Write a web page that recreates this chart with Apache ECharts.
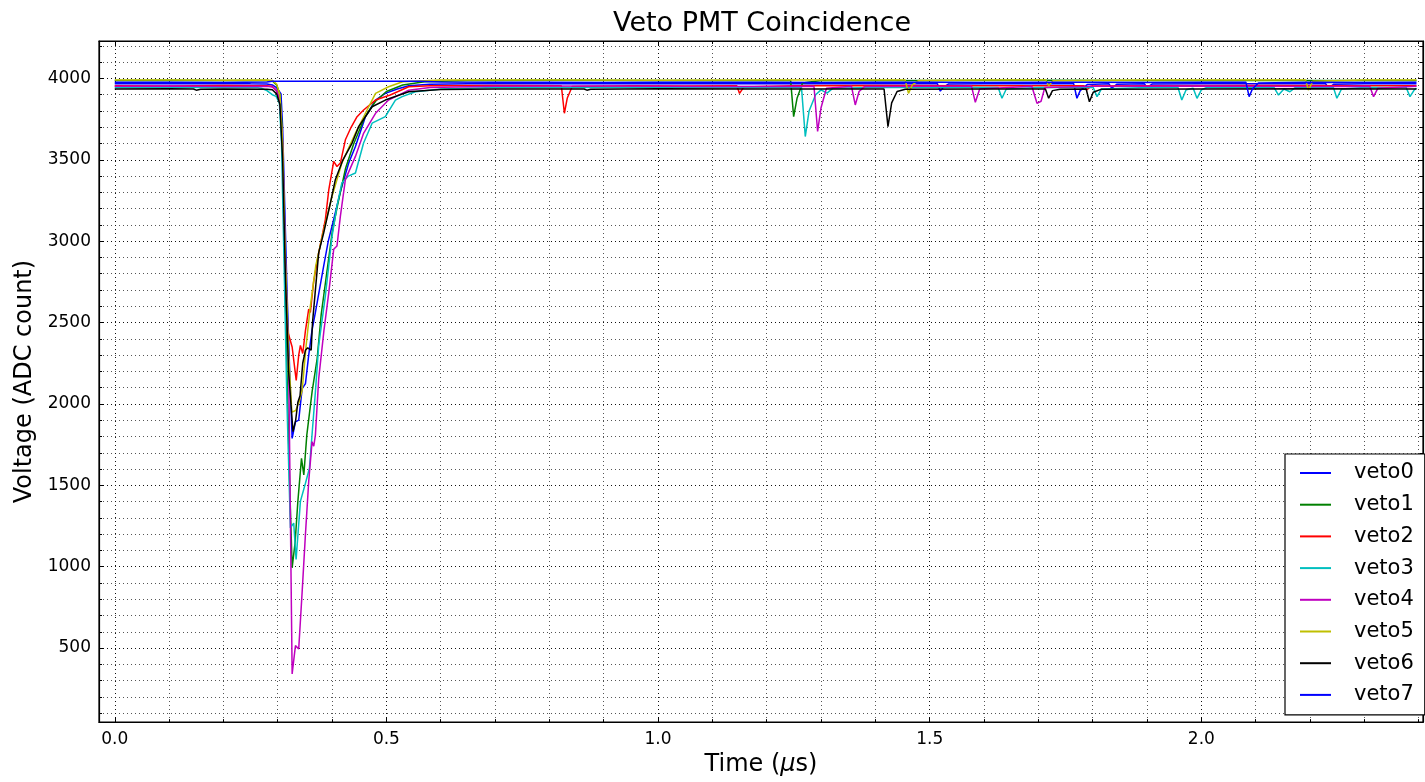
<!DOCTYPE html>
<html>
<head>
<meta charset="utf-8">
<title>Veto PMT Coincidence</title>
<script src="https://cdn.jsdelivr.net/npm/echarts@6/dist/echarts.min.js"></script>
<style>
    html, body { margin: 0; padding: 0; background: #fff; }
    #veto-chart { width: 1425px; height: 782px; }
</style>
</head>
<body>
<div id="veto-chart"></div>
<script>
// time in µs, voltage in ADC counts
const vetoNames = ['veto0', 'veto1', 'veto2', 'veto3', 'veto4', 'veto5', 'veto6', 'veto7'];
const vetoColors = ['#0000ff', '#008000', '#ff0000', '#00bfbf', '#bf00bf', '#bfbf00', '#000000', '#0000ff'];

const veto0 = [[0,3968],[0.05,3969],[0.1,3967],[0.15,3968],[0.2,3969],[0.25,3967],[0.28,3966],[0.29,3960],[0.297,3945],[0.302,3925],[0.306,3905],[0.309,3700],[0.313,3200],[0.317,2700],[0.322,2200],[0.3265,1788],[0.3326,1890],[0.3386,1900],[0.3449,2094],[0.351,2125],[0.357,2300],[0.363,2450],[0.3693,2563],[0.3846,2848],[0.393,3000],[0.403,3134],[0.415,3300],[0.4306,3480],[0.443,3582],[0.4614,3765],[0.48,3867],[0.498,3908],[0.52,3935],[0.541,3955],[0.58,3964],[0.65,3968],[0.75,3967],[0.85,3969],[0.95,3967],[1.05,3968],[1.15,3969],[1.25,3967],[1.35,3968],[1.45,3967],[1.514,3968],[1.5195,3922],[1.525,3945],[1.535,3966],[1.6,3968],[1.7,3967],[1.765,3968],[1.771,3878],[1.777,3925],[1.79,3962],[1.83,3967],[1.835,3940],[1.845,3965],[1.895,3968],[1.9,3945],[1.91,3966],[2.0,3968],[2.1,3967],[2.2,3968],[2.229,3967],[2.234,3940],[2.244,3965],[2.3,3968],[2.396,3967]];
const veto1 = [[0,3988],[0.1,3989],[0.2,3987],[0.28,3988],[0.29,3985],[0.298,3960],[0.304,3900],[0.308,3700],[0.312,3000],[0.317,2200],[0.322,1500],[0.3265,993],[0.332,1150],[0.337,1400],[0.3437,1666],[0.348,1564],[0.3535,1808],[0.3632,2074],[0.3725,2277],[0.38,2550],[0.39,2800],[0.4,3050],[0.41,3220],[0.425,3450],[0.44,3600],[0.46,3760],[0.48,3860],[0.5,3920],[0.53,3960],[0.57,3980],[0.65,3988],[0.8,3989],[1.0,3988],[1.2,3987],[1.244,3988],[1.2496,3765],[1.256,3880],[1.266,3972],[1.3,3987],[1.5,3988],[1.7,3989],[1.9,3988],[2.1,3987],[2.3,3988],[2.396,3988]];
const veto2 = [[0,3955],[0.1,3954],[0.2,3956],[0.28,3955],[0.29,3950],[0.298,3925],[0.304,3860],[0.308,3600],[0.312,3000],[0.318,2450],[0.3265,2350],[0.334,2145],[0.3386,2300],[0.3417,2360],[0.346,2310],[0.351,2450],[0.357,2583],[0.36,2563],[0.366,2750],[0.3755,2930],[0.3877,3134],[0.394,3317],[0.403,3490],[0.409,3459],[0.4153,3480],[0.4245,3623],[0.435,3700],[0.446,3765],[0.458,3806],[0.48,3867],[0.507,3898],[0.541,3949],[0.58,3955],[0.7,3956],[0.822,3955],[0.8276,3786],[0.833,3880],[0.842,3950],[0.95,3955],[1.05,3954],[1.145,3955],[1.15,3908],[1.158,3948],[1.25,3955],[1.4,3956],[1.6,3955],[1.784,3955],[1.789,3930],[1.797,3953],[1.9,3955],[2.1,3956],[2.3,3955],[2.396,3955]];
const veto3 = [[0,3945],[0.1,3946],[0.2,3944],[0.26,3945],[0.27,3940],[0.28,3925],[0.29,3900],[0.297,3890],[0.303,3850],[0.307,3600],[0.312,2800],[0.317,2000],[0.3233,1238],[0.3294,1268],[0.3338,1044],[0.3417,1401],[0.351,1513],[0.3583,1605],[0.3693,2074],[0.3754,2359],[0.3877,2665],[0.4,3031],[0.409,3215],[0.418,3358],[0.43,3400],[0.443,3419],[0.458,3603],[0.4737,3725],[0.498,3765],[0.5166,3867],[0.529,3888],[0.5534,3918],[0.6,3935],[0.7,3945],[0.85,3944],[1.0,3946],[1.15,3945],[1.264,3945],[1.271,3643],[1.278,3800],[1.29,3900],[1.3,3930],[1.311,3910],[1.322,3940],[1.4,3945],[1.5,3944],[1.626,3945],[1.633,3878],[1.641,3935],[1.7,3945],[1.801,3944],[1.808,3888],[1.816,3935],[1.9,3945],[1.957,3944],[1.964,3867],[1.972,3930],[1.985,3940],[1.992,3878],[2.0,3930],[2.01,3944],[2.1,3945],[2.134,3944],[2.142,3898],[2.152,3935],[2.163,3918],[2.172,3942],[2.243,3945],[2.2495,3878],[2.258,3935],[2.3,3945],[2.377,3944],[2.384,3888],[2.392,3930],[2.396,3940]];
const veto4 = [[0,3952],[0.1,3953],[0.2,3951],[0.28,3952],[0.29,3948],[0.298,3925],[0.304,3860],[0.309,3600],[0.314,2900],[0.32,2277],[0.3265,341],[0.3326,515],[0.3386,494],[0.345,850],[0.351,1200],[0.357,1523],[0.3632,1768],[0.3663,1740],[0.3693,1808],[0.3754,2155],[0.385,2450],[0.394,2685],[0.403,2950],[0.409,2970],[0.4153,3154],[0.4245,3378],[0.443,3521],[0.4582,3664],[0.48,3786],[0.504,3867],[0.541,3928],[0.58,3945],[0.7,3952],[0.9,3953],[1.1,3951],[1.287,3952],[1.2937,3674],[1.3,3820],[1.31,3940],[1.356,3952],[1.363,3837],[1.37,3920],[1.38,3950],[1.5,3952],[1.577,3952],[1.584,3853],[1.592,3935],[1.688,3952],[1.6975,3847],[1.705,3860],[1.712,3945],[1.8,3952],[2.0,3953],[2.2,3951],[2.31,3952],[2.317,3888],[2.325,3940],[2.396,3952]];
const veto5 = [[0,3990],[0.1,3991],[0.2,3989],[0.28,3990],[0.29,3988],[0.298,3965],[0.304,3900],[0.309,3600],[0.314,2900],[0.32,2300],[0.326,1950],[0.333,1960],[0.339,2010],[0.345,2084],[0.352,2350],[0.36,2600],[0.37,2850],[0.382,3031],[0.4,3276],[0.418,3480],[0.443,3664],[0.4675,3826],[0.48,3908],[0.504,3949],[0.53,3980],[0.6,3990],[0.8,3991],[1.0,3989],[1.2,3990],[1.4,3991],[1.455,3990],[1.461,3908],[1.468,3960],[1.48,3988],[1.6,3990],[1.714,3990],[1.719,3955],[1.727,3985],[1.9,3990],[2.1,3991],[2.192,3990],[2.197,3928],[2.205,3982],[2.3,3990],[2.396,3990]];
const veto6 = [[0,3935],[0.1,3936],[0.145,3935],[0.15,3928],[0.158,3934],[0.2,3935],[0.28,3934],[0.29,3930],[0.298,3905],[0.304,3840],[0.309,3500],[0.314,2800],[0.32,2200],[0.328,1830],[0.333,1900],[0.337,2010],[0.341,2050],[0.346,2250],[0.351,2330],[0.355,2345],[0.3615,2330],[0.364,2500],[0.368,2650],[0.3754,2930],[0.3846,3052],[0.397,3236],[0.406,3378],[0.42,3500],[0.4369,3603],[0.449,3704],[0.4737,3826],[0.498,3867],[0.541,3918],[0.6,3932],[0.7,3935],[0.864,3935],[0.869,3928],[0.876,3934],[1.0,3936],[1.2,3935],[1.416,3935],[1.4232,3704],[1.43,3850],[1.44,3920],[1.455,3934],[1.6,3935],[1.713,3935],[1.719,3878],[1.726,3925],[1.74,3934],[1.788,3935],[1.794,3857],[1.801,3915],[1.815,3933],[2.0,3935],[2.2,3936],[2.396,3935]];
const veto7 = [[0,3976],[0.1,3977],[0.2,3975],[0.28,3978],[0.29,3983],[0.56,3983],[0.6,3978],[0.7,3976],[0.8,3977],[0.9,3975],[1.0,3976],[1.1,3977],[1.2,3976],[1.3,3975],[1.4,3977],[1.5,3976],[1.6,3975],[1.7,3977],[1.8,3976],[1.9,3975],[2.0,3976],[2.082,3977],[2.088,3888],[2.094,3935],[2.105,3972],[2.2,3976],[2.3,3975],[2.396,3976]];

const vetoData = [veto0, veto1, veto2, veto3, veto4, veto5, veto6, veto7];

const font = 'DejaVu Sans';
const majorGrid = { show: true, lineStyle: { color: '#111', width: 1, type: [1, 3] } };
const minorGrid = { show: true, lineStyle: { color: '#555', width: 1, type: [1, 3] } };

let series = vetoNames.map(function (name, i) {
    return {
        name: name,
        type: 'line',
        data: vetoData[i],
        showSymbol: false,
        symbol: 'none',
        color: vetoColors[i],
        lineStyle: { width: 1.5, color: vetoColors[i] },
        z: 2 + i
    };
});

// x axes (bottom with labels, top only ticks)
function timeAxis(pos) {
    return {
        type: 'value',
        position: pos,
        min: -0.029,
        max: 2.408,
        splitNumber: 5,
        axisLine: { show: true, onZero: false, lineStyle: { color: '#000', width: 1.2 } },
        axisTick: { show: true, inside: true, length: 5, lineStyle: { color: '#000' } },
        minorTick: { show: true, splitNumber: 5, length: 3, lineStyle: { color: '#000' } },
        axisLabel: {
            show: pos === 'bottom',
            showMinLabel: false,
            showMaxLabel: false,
            margin: 9,
            color: '#000',
            fontFamily: font,
            fontSize: 17,
            formatter: function (v) { return v.toFixed(1); }
        },
        splitLine: pos === 'bottom' ? majorGrid : { show: false },
        minorSplitLine: pos === 'bottom' ? minorGrid : { show: false }
    };
}

// y axes (left with labels, right only ticks)
function voltAxis(pos) {
    return {
        type: 'value',
        position: pos,
        min: 45,
        max: 4230,
        splitNumber: 8,
        axisLine: { show: true, onZero: false, lineStyle: { color: '#000', width: 1.2 } },
        axisTick: { show: true, inside: true, length: 5, lineStyle: { color: '#000' } },
        minorTick: { show: true, splitNumber: 5, length: 3, lineStyle: { color: '#000' } },
        axisLabel: {
            show: pos === 'left',
            showMinLabel: false,
            showMaxLabel: false,
            margin: 8,
            color: '#000',
            fontFamily: font,
            fontSize: 17,
            formatter: function (v) { return String(Math.round(v)); }
        },
        splitLine: pos === 'left' ? majorGrid : { show: false },
        minorSplitLine: pos === 'left' ? minorGrid : { show: false }
    };
}

let xBottom = timeAxis('bottom');
xBottom.name = '{t|Time (}{m|μ}{t|s)}';
xBottom.nameLocation = 'middle';
xBottom.nameGap = 29;
xBottom.nameTextStyle = {
    rich: {
        t: { fontFamily: font, fontSize: 24, color: '#000' },
        m: { fontFamily: font, fontSize: 24, fontStyle: 'italic', color: '#000' }
    }
};

let yLeft = voltAxis('left');
yLeft.name = 'Voltage (ADC count)';
yLeft.nameLocation = 'middle';
yLeft.nameGap = 62;
yLeft.nameTextStyle = { fontFamily: font, fontSize: 24, color: '#000' };

let option = {
    animation: false,
    backgroundColor: '#fff',
    title: {
        text: 'Veto PMT Coincidence',
        left: 757,
        top: 5,
        textAlign: 'center',
        textStyle: { fontFamily: font, fontSize: 27, fontWeight: 'normal', color: '#000' }
    },
    grid: {
        left: 99,
        top: 41,
        width: 1324,
        height: 684,
        show: true,
        borderColor: '#000',
        borderWidth: 1.2,
        containLabel: false
    },
    legend: {
        data: vetoNames,
        orient: 'vertical',
        left: 1285,
        top: 454,
        icon: 'rect',
        itemWidth: 31,
        itemHeight: 2,
        itemGap: 9.7,
        padding: [8, 11, 9, 15],
        backgroundColor: '#fff',
        borderColor: '#000',
        borderWidth: 1.2,
        borderRadius: 0,
        textStyle: {
            fontFamily: font,
            fontSize: 21,
            lineHeight: 22,
            color: '#000',
            padding: [0, 0, 0, 18]
        }
    },
    xAxis: [xBottom, timeAxis('top')],
    yAxis: [yLeft, voltAxis('right')],
    series: series
};

let vetoChart = echarts.init(document.getElementById('veto-chart'));
vetoChart.setOption(option);
</script>
</body>
</html>
